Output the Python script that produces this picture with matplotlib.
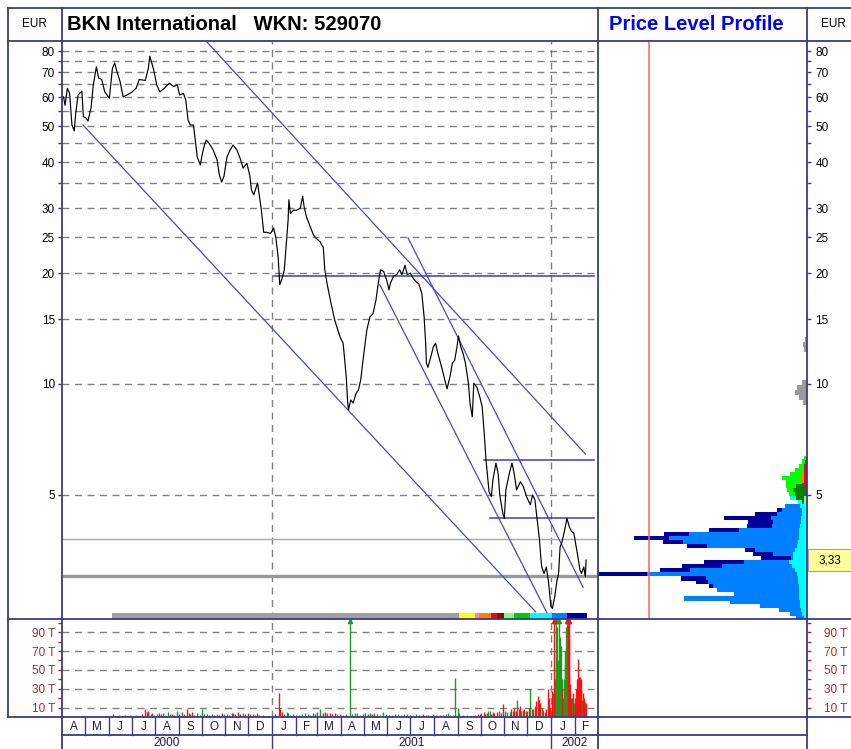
import numpy as np
import matplotlib
matplotlib.use("Agg")
import matplotlib.pyplot as plt
from matplotlib.lines import Line2D
from matplotlib.patches import Rectangle
import matplotlib.transforms as mtrans

plt.rcParams['font.family'] = ['Liberation Sans', 'DejaVu Sans']

W, H = 851, 749
ORIGIN = np.datetime64('2000-04-01')

# closing prices, x = days after 2000-04-01
price_day = [2, 4, 7, 10, 13, 16, 18, 21, 26, 28, 31, 34, 38, 41, 45, 48, 52, 56, 62, 66,
             69, 72, 76, 80, 85, 91, 97, 101, 109, 113, 115, 120, 124, 128, 134, 138, 141, 146, 151, 154,
             159, 162, 165, 168, 172, 175, 177, 181, 184, 187, 189, 194, 198, 203, 206, 209, 212, 216, 220, 224,
             229, 234, 237, 242, 246, 248, 251, 256, 259, 261, 264, 268, 273, 277, 280, 283, 285, 288, 291, 293,
             296, 297, 299, 303, 307, 312, 315, 317, 320, 325, 329, 333, 338, 340, 342, 344, 347, 352, 357, 364,
             368, 372, 374, 375, 378, 381, 385, 388, 391, 394, 399, 403, 407, 411, 414, 417, 421, 423, 425, 428,
             430, 434, 438, 442, 445, 449, 452, 456, 460, 464, 467, 471, 474, 476, 477, 479, 483, 486, 489, 492,
             497, 501, 504, 508, 511, 514, 517, 519, 522, 525, 528, 532, 534, 537, 539, 543, 547, 550, 553, 555,
             558, 559, 562, 564, 568, 571, 573, 577, 579, 581, 586, 589, 592, 595, 600, 604, 608, 613, 616, 619,
             622, 625, 627, 628, 631, 634, 637, 640, 642, 645, 648, 650, 652, 654, 656, 658, 661, 664, 667, 670,
             673, 676, 678, 680, 683, 685, 686]
price_eur = [60.1, 57.0, 63.4, 61.4, 50.4, 48.6, 54.3, 60.8, 62.3, 53.1, 52.8, 51.7, 56.1, 64.8, 72.5, 67.6, 67.0, 62.0, 59.6, 71.8,
             74.3, 70.3, 66.2, 60.1, 60.8, 61.8, 63.4, 67.0, 66.6, 71.8, 77.5, 71.1, 64.8, 62.0, 63.4, 64.8, 65.4, 64.1, 64.8, 60.8,
             61.4, 58.9, 52.0, 50.4, 50.4, 44.9, 41.3, 39.3, 42.4, 44.9, 45.9, 44.5, 43.1, 40.5, 36.9, 35.3, 36.6, 41.3, 43.1, 44.5,
             43.1, 40.5, 38.5, 39.7, 36.6, 33.6, 32.6, 35.1, 31.6, 29.6, 25.8, 25.8, 25.6, 26.5, 24.9, 22.0, 18.6, 19.3, 20.4, 23.1,
             27.9, 31.6, 29.0, 29.6, 29.6, 30.0, 32.3, 30.2, 28.4, 26.7, 25.4, 24.8, 24.3, 23.8, 23.5, 20.4, 18.7, 16.6, 14.9, 13.4,
             12.9, 10.5, 8.88, 8.51, 9.05, 8.88, 9.44, 9.63, 10.26, 11.6, 14.0, 15.2, 15.5, 16.9, 18.8, 20.4, 20.2, 19.6, 19.15, 18.0,
             18.8, 19.6, 19.8, 20.4, 19.8, 21.0, 19.8, 20.0, 19.3, 18.9, 18.7, 17.6, 15.2, 12.9, 11.4, 11.1, 11.9, 12.6, 12.9, 12.1,
             11.1, 10.26, 9.7, 10.5, 11.4, 11.6, 12.6, 13.5, 12.6, 12.1, 11.4, 10.05, 8.88, 8.15, 10.05, 9.8, 9.2, 8.67, 7.19, 6.22,
             5.37, 5.1, 4.95, 5.49, 6.1, 5.7, 5.0, 4.46, 4.32, 5.16, 5.78, 6.1, 5.7, 5.16, 5.43, 5.26, 4.95, 4.70, 5.0, 4.85,
             4.28, 3.78, 3.33, 3.19, 3.06, 3.19, 2.88, 2.49, 2.46, 2.65, 2.94, 3.06, 3.62, 3.70, 3.85, 4.02, 4.32, 4.10, 3.98, 3.94,
             3.62, 3.33, 3.13, 3.06, 3.19, 3.0, 3.33]
last_price = 3.33

# daily volume in thousand shares, up = 1 (green) / down = 0 (red)
vol_day = [67, 70, 74, 78, 82, 86, 89, 93, 97, 101, 105, 109, 111, 113, 116, 118, 121, 124, 127, 130,
           132, 135, 139, 141, 144, 147, 150, 153, 157, 160, 164, 166, 168, 170, 173, 177, 180, 183, 186, 190,
           193, 196, 199, 203, 206, 209, 212, 216, 219, 222, 224, 227, 230, 233, 237, 240, 243, 246, 250, 252,
           255, 258, 263, 268, 272, 279, 284, 286, 288, 290, 294, 296, 299, 302, 306, 310, 314, 318, 322, 325,
           328, 331, 334, 338, 341, 344, 347, 351, 354, 357, 360, 364, 368, 372, 377, 380, 383, 386, 390, 394,
           397, 400, 403, 406, 409, 412, 416, 420, 424, 428, 432, 436, 440, 444, 448, 452, 455, 459, 463, 467,
           472, 476, 479, 483, 486, 490, 495, 499, 502, 505, 508, 512, 515, 518, 520, 525, 530, 535, 540, 544,
           547, 549, 552, 554, 556, 558, 560, 562, 564, 566, 569, 572, 574, 577, 580, 583, 586, 588, 590, 592,
           594, 596, 598, 600, 601, 603, 605, 607, 609, 611, 613, 615, 617, 619, 621, 623, 625, 626, 628, 630,
           632, 634, 636, 638, 639, 641, 642, 643, 644, 645, 646, 647, 648, 649, 650, 651, 652, 653, 654, 655,
           656, 657, 658, 659, 660, 661, 662, 663, 664, 665, 666, 667, 668, 669, 670, 671, 672, 673, 674, 675,
           676, 677, 678, 679, 680, 681, 682, 683, 684, 685, 686]
vol_val = [3, 1, 2, 1, 2, 1, 2, 1, 2, 1, 3, 8, 5, 6, 3, 4, 2, 3, 4, 3,
           4, 2, 5, 3, 3, 2, 6, 3, 5, 3, 9, 4, 3, 5, 2, 4, 2, 8, 3, 3,
           2, 3, 2, 3, 2, 4, 3, 3, 2, 4, 4, 3, 5, 3, 4, 3, 4, 3, 3, 2,
           4, 2, 2, 1, 1, 3, 26, 8, 5, 3, 5, 4, 2, 3, 2, 2, 3, 4, 3, 2,
           4, 3, 5, 9, 4, 5, 4, 4, 3, 4, 3, 3, 2, 3, 110, 3, 4, 4, 2, 3,
           4, 3, 4, 3, 4, 3, 2, 5, 3, 2, 2, 3, 3, 2, 3, 3, 2, 2, 3, 2,
           3, 2, 2, 1, 3, 2, 2, 2, 3, 4, 2, 2, 41, 10, 4, 2, 2, 1, 2, 3,
           3, 4, 5, 3, 4, 6, 6, 3, 5, 4, 5, 6, 4, 14, 6, 5, 5, 8, 6, 10,
           6, 18, 8, 12, 6, 7, 9, 6, 6, 10, 30, 8, 8, 12, 17, 22, 18, 15, 10, 7,
           5, 8, 30, 20, 10, 28, 12, 25, 110, 40, 60, 110, 95, 60, 45, 110, 85, 75, 40, 30,
           20, 40, 55, 70, 95, 110, 110, 90, 110, 35, 20, 15, 20, 25, 15, 10, 20, 30, 40, 62,
           38, 42, 42, 40, 30, 18, 25, 20, 12, 16, 15]
vol_up = [1, 0, 1, 1, 0, 1, 1, 0, 1, 1, 0, 0, 0, 0, 1, 0, 1, 1, 0, 1,
          1, 1, 1, 1, 0, 1, 1, 0, 1, 0, 0, 0, 1, 0, 1, 1, 0, 1, 1, 1,
          0, 1, 1, 1, 0, 0, 1, 1, 0, 0, 0, 1, 0, 0, 1, 0, 0, 1, 0, 1,
          0, 0, 0, 1, 0, 0, 0, 0, 0, 1, 1, 1, 0, 1, 1, 0, 1, 1, 1, 0,
          1, 0, 1, 1, 0, 0, 0, 0, 0, 0, 1, 0, 1, 1, 1, 1, 1, 1, 0, 1,
          1, 1, 1, 0, 1, 1, 1, 1, 1, 0, 1, 0, 1, 1, 1, 1, 0, 1, 1, 0,
          0, 0, 0, 1, 1, 0, 1, 0, 1, 1, 0, 1, 1, 1, 1, 0, 1, 0, 0, 0,
          0, 1, 0, 0, 0, 1, 1, 0, 0, 0, 0, 1, 0, 0, 1, 1, 1, 0, 1, 0,
          0, 1, 1, 0, 1, 0, 0, 1, 0, 0, 1, 1, 0, 0, 0, 0, 0, 0, 1, 0,
          0, 0, 0, 0, 0, 0, 1, 1, 0, 1, 1, 1, 1, 1, 1, 1, 1, 1, 1, 0,
          1, 1, 1, 1, 1, 1, 0, 0, 0, 0, 0, 1, 1, 0, 1, 0, 0, 0, 0, 0,
          0, 0, 0, 0, 0, 1, 0, 0, 0, 1, 0]

# trend lines (day, price) -> (day, price)
trend_start = [(27.5, 50.4), (188.5, 85.2), (416, 18.6), (453, 24.9)]
trend_end = [(620, 2.41), (685, 6.46), (635, 2.39), (682, 2.81)]
# horizontal resistance / support lines
hline_day0 = [277, 553, 560]
hline_day1 = [697, 697, 697]
hline_level = [19.6, 6.22, 4.32]
thin_level = 3.80
thick_level = 3.02

# period colour bar (start days) used for the price level profile
period_start = [66, 520, 541, 546, 562, 570, 578, 592, 613, 642, 661]
period_end = 687
period_color = ['#a0a0a0', '#ffff00', '#ff80c0', '#ff8000', '#ff0000', '#990000',
                '#80ff80', '#00cc00', '#00ffff', '#0080ff', '#000099']

# price level profile (volume at price, by period)
prof_price = [2.32, 2.38, 2.44, 2.50, 2.56, 2.62, 2.69, 2.76, 2.83, 2.90,
              2.97, 3.05, 3.13, 3.21, 3.29, 3.37, 3.46, 3.55, 3.64, 3.73,
              3.82, 3.92, 4.02, 4.12, 4.23, 4.33, 4.44, 4.56, 4.67, 4.79,
              4.91, 5.04, 5.16, 5.30, 5.43, 5.57, 5.71, 5.85, 6.00, 6.16, 6.31]
prof_red = [0]*31 + [2, 2, 3, 3, 3, 3, 3, 3, 2, 1]
prof_orange = [0]*34 + [2, 2, 2, 1, 0, 0, 0]
prof_lgreen = [0]*28 + [2, 3, 3] + [0]*10
prof_dgreen = [0]*29 + [2, 8, 10, 12, 8] + [0]*7
prof_lime = [0]*31 + [6, 6, 10, 16, 20, 12, 8, 5, 3, 2]
prof_cyan = [3, 5, 6, 7, 7, 8, 8, 8, 8, 9, 9, 10, 12, 15, 18, 14, 14, 12, 10, 9,
             8, 8, 8, 7, 6, 6, 5, 5, 5, 4, 6] + [0]*10
prof_dodger = [8, 12, 22, 40, 70, 115, 65, 82, 86, 90, 92, 150, 105, 70, 45, 2, 20, 40, 90, 115,
               130, 110, 60, 28, 28, 30, 25, 20, 15] + [0]*12
prof_navy = [0, 0, 0, 0, 0, 0, 0, 0, 4, 12, 25, 50, 30, 40, 40, 30, 20, 10, 20, 20,
             35, 25, 30, 25, 25, 47, 22, 5] + [0]*13
gray_price = [8.9, 9.2, 9.5, 9.8, 10.1, 12.4, 12.8, 13.2]
gray_vol = [4, 8, 12, 10, 5, 3, 4, 2]

NAVY = '#3a3a8a'
VOLC = '#a03030'


def box(x0, y0, x1, y1):
    return [x0 / W, 1 - y1 / H, (x1 - x0) / W, (y1 - y0) / H]


def fy(y):
    return 1 - y / H


def day(s):
    return int((np.datetime64(s) - ORIGIN).astype(int))


fig = plt.figure(figsize=(W / 100, H / 100), dpi=100)
fig.patch.set_facecolor('white')

ylo, yhi = 2.304, 85.2
xlo, xhi = 0, 701.6
maj = [5, 10, 15, 20, 25, 30, 40, 50, 60, 70, 80]
mnr = [35, 45, 55, 65, 75]

# ---- price panel
ax = fig.add_axes(box(62, 41, 598, 619))
ax.set_yscale('log')
ax.set_ylim(ylo, yhi)
ax.set_xlim(xlo, xhi)
ax.set_yticks(maj)
ax.set_yticklabels([str(v) for v in maj])
ax.set_yticks(mnr, minor=True)
ax.yaxis.set_minor_formatter(matplotlib.ticker.NullFormatter())
ax.set_xticks([])
ax.tick_params(axis='y', which='both', direction='out', length=3, width=1,
               color=NAVY, labelsize=8.5, pad=2)
for s in ax.spines.values():
    s.set_visible(False)
for v in maj + mnr:
    ax.axhline(v, color='#808080', lw=1, ls=(0, (5, 4)), zorder=1)
for y in ['2001-01-01', '2002-01-01']:
    ax.axvline(day(y), color='#808080', lw=1, ls=(0, (5, 4)), zorder=1)

ax.axhline(thin_level, color='#a8a8a8', lw=1, zorder=2)
ax.axhline(thick_level, color='#999999', lw=2.4, zorder=2)
for (d0, p0), (d1, p1) in zip(trend_start, trend_end):
    ax.plot([d0, d1], [p0, p1], color='#4848c8', lw=0.9, zorder=3)
for d0, d1, lv in zip(hline_day0, hline_day1, hline_level):
    ax.plot([d0, d1], [lv, lv], color='#3c3cc0', lw=1.1, zorder=3)
ax.plot(price_day, price_eur, color='black', lw=0.85, zorder=4)

bt = mtrans.blended_transform_factory(ax.transData, ax.transAxes)
edges = period_start + [period_end]
for i, c in enumerate(period_color):
    ax.add_patch(Rectangle((edges[i], 0), edges[i + 1] - edges[i], 0.011,
                           transform=bt, color=c, lw=0, zorder=5))

# ---- volume panel
av = fig.add_axes(box(62, 619, 598, 717))
av.set_xlim(xlo, xhi)
av.set_ylim(0, 104)
vt = [10, 30, 50, 70, 90]
av.set_yticks(vt)
av.set_yticklabels([f'{v} T' for v in vt])
av.set_yticks([20, 40, 60, 80, 100], minor=True)
av.set_xticks([])
av.tick_params(axis='y', which='both', direction='out', length=3, width=1,
               color=VOLC, labelcolor=VOLC, labelsize=8.5, pad=2)
for s in av.spines.values():
    s.set_visible(False)
for v in vt:
    av.axhline(v, color='#808080', lw=1, ls=(0, (5, 4)), zorder=1)
for y in ['2001-01-01', '2002-01-01']:
    av.axvline(day(y), color='#808080', lw=1, ls=(0, (5, 4)), zorder=1)
vd = np.array(vol_day)
vv = np.array(vol_val)
vu = np.array(vol_up).astype(bool)
av.vlines(vd[vu], 0, vv[vu], color='#1f9a1f', lw=1.0, zorder=3)
av.vlines(vd[~vu], 0, vv[~vu], color='#ff1010', lw=1.0, zorder=3)
over = vv > 104
av.plot(vd[over & vu], np.full((over & vu).sum(), 102), '^', color='#1f9a1f', ms=3, zorder=4, clip_on=False)
av.plot(vd[over & ~vu], np.full((over & ~vu).sum(), 102), '^', color='#ff1010', ms=3, zorder=4, clip_on=False)

# ---- price level profile
ap = fig.add_axes(box(598, 41, 807, 619))
ap.set_yscale('log')
ap.set_ylim(ylo, yhi)
ap.set_xlim(209, 0)
ap.set_xticks([])
ap.yaxis.tick_right()
ap.set_yticks(maj)
ap.set_yticklabels([str(v) for v in maj])
ap.set_yticks(mnr, minor=True)
ap.yaxis.set_minor_formatter(matplotlib.ticker.NullFormatter())
ap.tick_params(axis='y', which='both', direction='out', length=3, width=1,
               color=NAVY, labelsize=8.5, pad=3)
for s in ap.spines.values():
    s.set_visible(False)
lv = np.array(prof_price)
hgt = lv * 0.027
left = np.zeros(len(lv))
for vals, c in [(prof_red, '#ff0000'), (prof_orange, '#ff8000'), (prof_lgreen, '#80ff80'),
                (prof_dgreen, '#008000'), (prof_lime, '#00ff00'), (prof_cyan, '#00ffff'),
                (prof_dodger, '#0080ff'), (prof_navy, '#000099')]:
    v = np.array(vals, dtype=float)
    ap.barh(lv, v, height=hgt, left=left, color=c, lw=0)
    left += v
gp = np.array(gray_price)
ap.barh(gp, gray_vol, height=gp * 0.03, color='#9a9a9a', lw=0)
ap.axvline(158, color='#ff6060', lw=1.1)

# last price label box on the right axis
lt = mtrans.blended_transform_factory(ap.transAxes, ap.transData)
ap.add_patch(Rectangle((1.005, last_price / 1.071), 0.206, last_price * (1.071 - 1 / 1.071),
                       transform=lt, fc='#ffff99', ec='#a0a0a0', lw=0.8, clip_on=False, zorder=6))
ap.text(1.108, last_price, '3,33', transform=lt, ha='center', va='center',
        fontsize=8.5, clip_on=False, zorder=7)

# ---- empty volume area beside the profile
avp = fig.add_axes(box(598, 619, 807, 717))
avp.set_ylim(0, 104)
avp.set_xticks([])
avp.yaxis.tick_right()
avp.set_yticks(vt)
avp.set_yticklabels([f'{v} T' for v in vt])
avp.set_yticks([20, 40, 60, 80, 100], minor=True)
avp.tick_params(axis='y', which='both', direction='out', length=3, width=1,
                color=VOLC, labelcolor=VOLC, labelsize=8.5, pad=9)
for s in avp.spines.values():
    s.set_visible(False)

# ---- month and year rows
mt = mtrans.blended_transform_factory(av.transData, fig.transFigure)
mstart = np.arange(np.datetime64('2000-04'), np.datetime64('2002-04'), np.timedelta64(1, 'M'))
mdays = [int((m.astype('datetime64[D]') - ORIGIN).astype(int)) for m in mstart]
mletters = 'AMJJASONDJFMAMJJASONDJF'
for i, ch in enumerate(mletters):
    a, b = mdays[i], min(mdays[i + 1], xhi)
    fig.text((a + b) / 2, fy(726.5), ch, transform=mt, ha='center', va='center',
             fontsize=8.5, color='#1a1a5a')
    if i > 0:
        fig.add_artist(Line2D([a, a], [fy(717), fy(735)], transform=mt, color=NAVY, lw=1))
years = ['2000', '2001', '2002']
ybound = [0, day('2001-01-01'), day('2002-01-01'), xhi]
for i, yr in enumerate(years):
    fig.text((ybound[i] + ybound[i + 1]) / 2, fy(743), yr, transform=mt, ha='center', va='center',
             fontsize=8.5, color='#1a1a5a')
    if i > 0:
        fig.add_artist(Line2D([ybound[i]] * 2, [fy(735), fy(749)], transform=mt, color=NAVY, lw=1))

# ---- frame
frame = [((8, 8), (851, 8)), ((8, 41), (851, 41)), ((8, 619), (851, 619)), ((8, 717), (851, 717)),
         ((62, 735), (807, 735)), ((8, 8), (8, 717)), ((62, 8), (62, 749)), ((598, 8), (598, 749)),
         ((807, 8), (807, 749))]
for (x0, y0), (x1, y1) in frame:
    fig.add_artist(Line2D([x0 / W, x1 / W], [fy(y0), fy(y1)], transform=fig.transFigure,
                          color=NAVY, lw=1.3))

fig.text(34 / W, fy(24), 'EUR', ha='center', va='center', fontsize=8.5)
fig.text(833 / W, fy(24), 'EUR', ha='center', va='center', fontsize=8.5)
fig.text(67 / W, fy(24), 'BKN International   WKN: 529070', ha='left', va='center',
         fontsize=14.5, fontweight='bold')
fig.text(696 / W, fy(24), 'Price Level Profile', ha='center', va='center',
         fontsize=14.5, fontweight='bold', color='#0000ff')

fig.savefig('out.png', dpi=100)
